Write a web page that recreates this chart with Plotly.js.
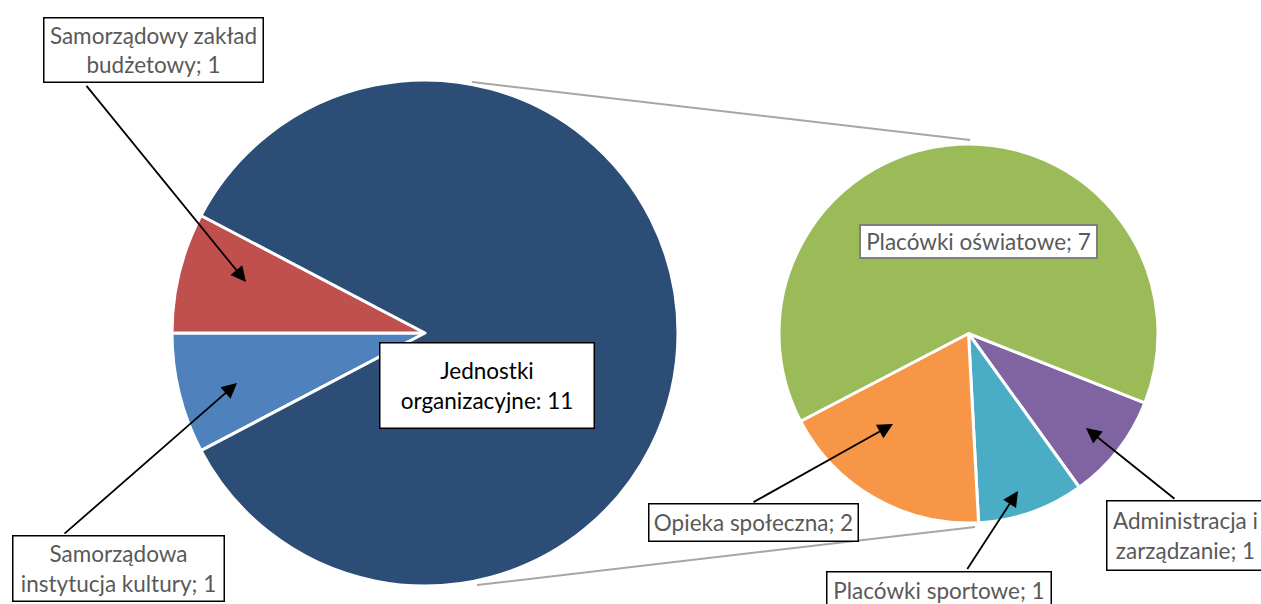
<!DOCTYPE html>
<html>
<head>
<meta charset="utf-8">
<script src="https://cdn.plot.ly/plotly-3.0.1.min.js"></script>
<style>html,body{margin:0;padding:0;background:#fff;}#chart{width:1261px;height:604px;}</style>
</head>
<body>
<div id="chart"></div>
<script>
// ---- data ----
const leftLabels = ['Samorządowa instytucja kultury', 'Samorządowy zakład budżetowy', 'Jednostki organizacyjne'];
const leftValues = [1, 1, 11];
const leftColors = ['#4F81BD', '#C0504D', '#2C4D75'];

const rightLabels = ['Administracja i zarządzanie', 'Placówki sportowe', 'Opieka społeczna', 'Placówki oświatowe'];
const rightValues = [1, 1, 2, 7];
const rightColors = ['#8064A2', '#4BACC6', '#F79646', '#9BBB59'];

const W = 1261, H = 604;
const px = x => x / W;
const py = y => 1 - y / H;
const FONT = 'Lato, "Open Sans", sans-serif';
const GREY = '#595959';

const traces = [
  {
    type: 'pie', labels: leftLabels, values: leftValues, sort: false,
    direction: 'clockwise', rotation: -117.7,
    marker: {colors: leftColors, line: {color: '#ffffff', width: 3}},
    textinfo: 'none', hoverinfo: 'label+value', showlegend: false,
    domain: {x: [px(172), px(678)], y: [py(586), py(80)]}
  },
  {
    type: 'pie', labels: rightLabels, values: rightValues, sort: false,
    direction: 'clockwise', rotation: 111.5,
    marker: {colors: rightColors, line: {color: '#ffffff', width: 3}},
    textinfo: 'none', hoverinfo: 'label+value', showlegend: false,
    domain: {x: [px(779), px(1158)], y: [py(523), py(144)]}
  }
];

function box(text, cx, cy, w, h, opts) {
  opts = opts || {};
  const bw = opts.bw || 1.5;
  return {
    xref: 'paper', yref: 'paper', x: px(cx), y: py(cy),
    xanchor: 'center', yanchor: 'middle', showarrow: false,
    text: text, align: 'center',
    width: w - 2 * bw, height: h - 2 * bw,
    bgcolor: '#ffffff', bordercolor: opts.bc || '#000000', borderwidth: bw, borderpad: 0,
    font: {family: FONT, size: opts.size || 22.5, color: opts.color || GREY}
  };
}
function arrow(tx, ty, sx, sy) {
  return {
    xref: 'paper', yref: 'paper', x: px(tx), y: py(ty),
    ax: sx - tx, ay: sy - ty, axref: 'pixel', ayref: 'pixel',
    text: ' ', font: {size: 1}, showarrow: true,
    arrowhead: 2, arrowsize: 1.7, arrowwidth: 1.8, arrowcolor: '#000000', standoff: 0
  };
}

const annotations = [
  arrow(246, 282, 85, 84),
  arrow(237, 383, 63, 535),
  arrow(893, 424, 752, 503),
  arrow(1018, 491, 966, 571),
  arrow(1086, 428, 1176, 500),
  box('Samorządowy zakład<br>budżetowy; ' + leftValues[1], 153, 49.5, 221, 66),
  box('Jednostki<br>organizacyjne: ' + leftValues[2], 486.5, 385, 216, 87, {color: '#000000'}),
  box('Samorządowa<br>instytucja kultury; ' + leftValues[0], 118, 568.5, 213, 67),
  box('Placówki oświatowe; ' + rightValues[3], 978, 242, 239, 35, {bc: '#7F7F7F', bw: 2}),
  box('Opieka społeczna; ' + rightValues[2], 753, 522, 211, 39),
  box('Placówki sportowe; ' + rightValues[1], 938.5, 590, 226, 39),
  box('Administracja i<br>zarządzanie; ' + rightValues[0], 1185, 535, 159, 71)
];

const shapes = [
  {type: 'line', xref: 'paper', yref: 'paper', x0: px(472), y0: py(82), x1: px(970), y1: py(140), line: {color: '#A6A6A6', width: 2}, layer: 'below'},
  {type: 'line', xref: 'paper', yref: 'paper', x0: px(477), y0: py(585), x1: px(975), y1: py(527), line: {color: '#A6A6A6', width: 2}, layer: 'below'}
];

const layout = {
  width: W, height: H,
  margin: {l: 0, r: 0, t: 0, b: 0},
  paper_bgcolor: '#ffffff', plot_bgcolor: '#ffffff',
  showlegend: false,
  annotations: annotations,
  shapes: shapes,
  font: {family: FONT}
};

Plotly.newPlot('chart', traces, layout, {displayModeBar: false, staticPlot: true});
</script>
</body>
</html>
